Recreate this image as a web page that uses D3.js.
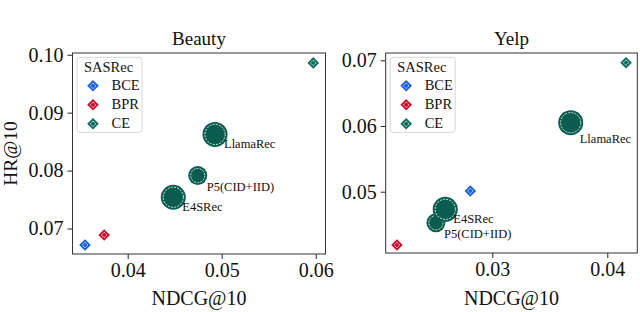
<!DOCTYPE html>
<html lang="en">
<head>
  <meta charset="UTF-8">
  <title>SASRec vs LLM recommenders</title>
  <style>
    body { margin: 0; background: #fff; }
    svg text { font-family: "Liberation Serif", "Times New Roman", serif; fill: #111; }
  </style>
</head>
<body>
  <script src="https://d3js.org/d3.v7.min.js"></script>
  <script>
    // SASRec trained with different losses
    const losses = ['BCE', 'BPR', 'CE'];
    const beautyNdcg = [0.03546, 0.0375, 0.05974];
    const beautyHr = [0.06716, 0.06888, 0.09859];
    const yelpNdcg = [0.02809, 0.02171, 0.04163];
    const yelpHr = [0.0501, 0.04189, 0.06963];

    // LLM-based recommenders
    const llmNames = ['LlamaRec', 'P5(CID+IID)', 'E4SRec'];
    const beautyLlmNdcg = [0.04929, 0.04745, 0.04485];
    const beautyLlmHr = [0.08624, 0.07914, 0.0754];
    const yelpLlmNdcg = [0.03682, 0.0251, 0.02591];
    const yelpLlmHr = [0.0605, 0.04528, 0.04732];

    // tick labels
    const beautyXTicks = [0.04, 0.05, 0.06];
    const beautyYTicks = [0.07, 0.08, 0.09, 0.10];
    const yelpXTicks = [0.03, 0.04];
    const yelpYTicks = [0.05, 0.06, 0.07];

    const [width, height] = [640, 312];
    const lossColor = { BCE: '#1a5fd8', BPR: '#c8102e', CE: '#0e6b5b' };
    const llmColor = '#0a5c4e';
    const llmRadius = [12.5, 9.5, 12.5];

    const panels = [
      {
        title: 'Beauty', ndcg: beautyNdcg, hr: beautyHr,
        llmNdcg: beautyLlmNdcg, llmHr: beautyLlmHr,
        xTicks: beautyXTicks, yTicks: beautyYTicks,
        xDomain: [0.03413, 0.06104], yDomain: [0.0656, 0.1003],
        box: { left: 72.5, right: 325.5, top: 53, bottom: 254 },
        labelOffset: [[9, 14], [9, 15], [9, 14]],
        yLabel: 'HR@10'
      },
      {
        title: 'Yelp', ndcg: yelpNdcg, hr: yelpHr,
        llmNdcg: yelpLlmNdcg, llmHr: yelpLlmHr,
        xTicks: yelpXTicks, yTicks: yelpYTicks,
        xDomain: [0.02073, 0.04261], yDomain: [0.04067, 0.07111],
        box: { left: 385.7, right: 637.3, top: 53, bottom: 253 },
        labelOffset: [[9, 20], [8, 15], [8, 14]],
        yLabel: null
      }
    ];

    const svg = d3.select('body').append('svg').attr('width', width).attr('height', height);

    function diamond(g, x, y, color) {
      const s = 5.8;
      g.append('path')
        .attr('d', `M${x},${y - s}L${x + s},${y}L${x},${y + s}L${x - s},${y}Z`)
        .attr('fill', color);
      const t = 2.8;
      g.append('path')
        .attr('d', `M${x},${y - t}L${x + t},${y}L${x},${y + t}L${x - t},${y}Z`)
        .attr('fill', 'none')
        .attr('stroke', '#fff')
        .attr('stroke-width', 0.9)
        .attr('stroke-dasharray', '1.5,0.8');
    }

    panels.forEach(p => {
      const b = p.box;
      const x = d3.scaleLinear().domain(p.xDomain).range([b.left, b.right]);
      const y = d3.scaleLinear().domain(p.yDomain).range([b.bottom, b.top]);
      const g = svg.append('g');

      // axes
      const xAxis = g.append('g')
        .attr('transform', `translate(0, ${b.bottom})`)
        .call(d3.axisBottom(x).tickValues(p.xTicks).tickFormat(d3.format('.2f')).tickSizeOuter(0).tickSize(5).tickPadding(4));
      const yAxis = g.append('g')
        .attr('transform', `translate(${b.left}, 0)`)
        .call(d3.axisLeft(y).tickValues(p.yTicks).tickFormat(d3.format('.2f')).tickSizeOuter(0).tickSize(5).tickPadding(4));
      [xAxis, yAxis].forEach(a => {
        a.select('.domain').remove();
        a.selectAll('line').attr('stroke', '#222').attr('stroke-width', 1);
        a.selectAll('text').attr('font-size', 20).attr('fill', '#111')
          .style('font-family', '"Liberation Serif", serif');
      });

      // frame
      g.append('rect')
        .attr('x', b.left).attr('y', b.top)
        .attr('width', b.right - b.left).attr('height', b.bottom - b.top)
        .attr('fill', 'none').attr('stroke', '#333').attr('stroke-width', 1);

      // title and labels
      g.append('text')
        .attr('x', (b.left + b.right) / 2).attr('y', 45)
        .attr('text-anchor', 'middle').attr('font-size', 19)
        .text(p.title);
      g.append('text')
        .attr('x', (b.left + b.right) / 2).attr('y', 305)
        .attr('text-anchor', 'middle').attr('font-size', 20)
        .text('NDCG@10');
      if (p.yLabel) {
        g.append('text')
          .attr('transform', `translate(17, ${(b.top + b.bottom) / 2}) rotate(-90)`)
          .attr('text-anchor', 'middle').attr('font-size', 19.5)
          .text(p.yLabel);
      }

      // legend
      const lg = g.append('g').attr('transform', `translate(${b.left + 4.5}, ${b.top + 4.3})`);
      lg.append('rect')
        .attr('width', 65).attr('height', 75).attr('rx', 3)
        .attr('fill', '#fff').attr('fill-opacity', 0.8)
        .attr('stroke', '#d6d6d6').attr('stroke-width', 1);
      lg.append('text').attr('x', 7).attr('y', 15).attr('font-size', 14.5).text('SASRec');
      losses.forEach((l, i) => {
        const yy = 28.5 + i * 19;
        diamond(lg, 16, yy, lossColor[l]);
        lg.append('text').attr('x', 34.5).attr('y', yy + 4.5).attr('font-size', 14.5).text(l);
      });

      // SASRec points
      const pg = g.append('g');
      losses.forEach((l, i) => diamond(pg, x(p.ndcg[i]), y(p.hr[i]), lossColor[l]));

      // LLM bubbles
      const bubbles = llmNames.map((n, i) => ({ name: n, nd: p.llmNdcg[i], hr: p.llmHr[i], r: llmRadius[i], off: p.labelOffset[i] }));
      const bg = g.append('g');
      bubbles.forEach(d => {
        const cx = x(d.nd), cy = y(d.hr);
        bg.append('circle').attr('cx', cx).attr('cy', cy).attr('r', d.r).attr('fill', llmColor);
        bg.append('circle').attr('cx', cx).attr('cy', cy).attr('r', d.r - 2.4)
          .attr('fill', 'none').attr('stroke', '#fff').attr('stroke-width', 0.9)
          .attr('stroke-dasharray', '2,1.2').attr('stroke-opacity', 0.9);
      });
      bubbles.forEach(d => {
        bg.append('text')
          .attr('x', x(d.nd) + d.off[0]).attr('y', y(d.hr) + d.off[1])
          .attr('font-size', 12.5).text(d.name);
      });
    });
  </script>
</body>
</html>
